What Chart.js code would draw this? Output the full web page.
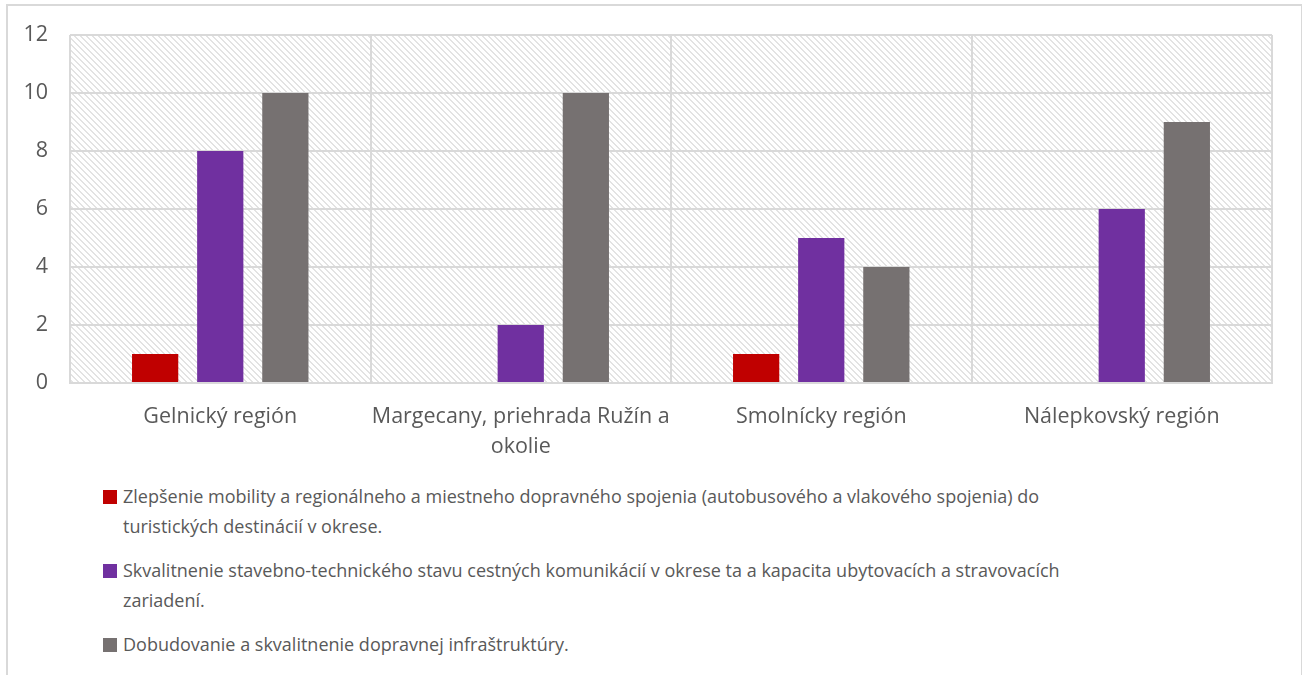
<!DOCTYPE html>
<html>
<head>
<meta charset="utf-8">
<script src="https://cdn.jsdelivr.net/npm/chart.js@4.4.1/dist/chart.umd.min.js"></script>
<style>
    html, body {
        margin: 0;
        padding: 0;
        width: 1302px;
        height: 675px;
        overflow: hidden;
        background: #ffffff;
        font-family: "Open Sans", Lato, sans-serif;
    }
    .frame {
        position: absolute;
        left: 6px;
        top: 4px;
        width: 1293px;
        height: 700px;
        border: 2px solid #d9d9d9;
    }
    .chart-box {
        position: absolute;
        left: 8px;
        top: 0;
        width: 1292px;
        height: 476px;
    }
    #legend {
        position: absolute;
        left: 103px;
        top: 481px;
        width: 1180px;
        color: #595959;
        font-size: 18px;
        line-height: 30px;
    }
    .legend-item {
        display: flex;
        align-items: flex-start;
        margin-bottom: 14px;
    }
    .legend-box {
        flex: none;
        width: 14px;
        height: 14px;
        margin-top: 9px;
        margin-right: 6px;
    }
    .legend-text {
        white-space: pre-line;
    }
</style>
</head>
<body>
<div class="frame"></div>
<div class="chart-box"><canvas id="chart"></canvas></div>
<div id="legend"></div>

<script>
// categories (wrapped the same way as in the picture)
const categories = [
    'Gelnický región',
    ['Margecany, priehrada Ružín a', 'okolie'],
    'Smolnícky región',
    'Nálepkovský región'
];

// series names, \n where the legend wraps
const seriesNames = [
    'Zlepšenie mobility a regionálneho a miestneho dopravného spojenia (autobusového a vlakového spojenia) do\nturistických destinácií v okrese.',
    'Skvalitnenie stavebno-technického stavu cestných komunikácií v okrese ta a kapacita ubytovacích a stravovacích\nzariadení.',
    'Dobudovanie a skvalitnenie dopravnej infraštruktúry.'
];

const mobilityValues = [1, null, 1, null];
const roadValues = [8, 2, 5, 6];
const infraValues = [10, 10, 4, 9];

const yTicks = [0, 2, 4, 6, 8, 10, 12];

const colors = {
    red: '#c00000',
    purple: '#7030a0',
    gray: '#767171',
    grid: '#d9d9d9',
    text: '#595959'
};

const fontFamily = '"Open Sans", Lato, sans-serif';

// light diagonal hatch for the plot area
function makeHatch() {
    const size = 6;
    const c = document.createElement('canvas');
    c.width = size;
    c.height = size;
    const g = c.getContext('2d');
    g.fillStyle = '#ffffff';
    g.fillRect(0, 0, size, size);
    g.fillStyle = '#e3e3e3';
    for (let i = 0; i < size; i++) {
        g.fillRect(i, i, 1, 1);
        g.fillRect((i + 1) % size, i, 1, 1);
    }
    return g.createPattern(c, 'repeat');
}

const hatchBackground = {
    id: 'hatchBackground',
    beforeDraw(chart) {
        const { ctx, chartArea } = chart;
        ctx.save();
        ctx.fillStyle = makeHatch();
        ctx.fillRect(chartArea.left, chartArea.top, chartArea.right - chartArea.left, chartArea.bottom - chartArea.top);
        ctx.restore();
    }
};

const chart = new Chart(document.getElementById('chart'), {
    type: 'bar',
    data: {
        labels: categories,
        datasets: [
            { label: seriesNames[0], data: mobilityValues, backgroundColor: colors.red },
            { label: seriesNames[1], data: roadValues, backgroundColor: colors.purple },
            { label: seriesNames[2], data: infraValues, backgroundColor: colors.gray }
        ]
    },
    options: {
        responsive: true,
        maintainAspectRatio: false,
        animation: false,
        categoryPercentage: 0.65,
        barPercentage: 0.71,
        layout: {
            padding: { left: 0, top: 35, right: 28, bottom: 0 }
        },
        plugins: {
            legend: { display: false },
            tooltip: { enabled: false }
        },
        scales: {
            x: {
                grid: {
                    offset: true,
                    color: colors.grid,
                    lineWidth: 2,
                    drawTicks: false
                },
                border: { color: colors.grid, width: 2 },
                ticks: {
                    color: colors.text,
                    font: { family: fontFamily, size: 21.5, lineHeight: 1.4 },
                    padding: 19,
                    maxRotation: 0,
                    autoSkip: false
                },
                afterFit(scale) {
                    scale.height = 93;
                }
            },
            y: {
                min: 0,
                max: 12,
                afterBuildTicks(scale) {
                    scale.ticks = yTicks.map(v => ({ value: v }));
                },
                grid: {
                    color: colors.grid,
                    lineWidth: 2,
                    drawTicks: false
                },
                border: { display: false },
                ticks: {
                    color: colors.text,
                    font: { family: fontFamily, size: 21.5, lineHeight: 1.2 },
                    padding: 22
                },
                afterFit(scale) {
                    scale.width = 62;
                }
            }
        }
    },
    plugins: [hatchBackground]
});

// HTML legend so long labels can wrap
function buildLegend() {
    const box = document.getElementById('legend');
    chart.data.datasets.forEach(ds => {
        const item = document.createElement('div');
        item.className = 'legend-item';
        const mark = document.createElement('span');
        mark.className = 'legend-box';
        mark.style.background = ds.backgroundColor;
        const text = document.createElement('span');
        text.className = 'legend-text';
        text.textContent = ds.label;
        item.appendChild(mark);
        item.appendChild(text);
        box.appendChild(item);
    });
}
buildLegend();
</script>
</body>
</html>
